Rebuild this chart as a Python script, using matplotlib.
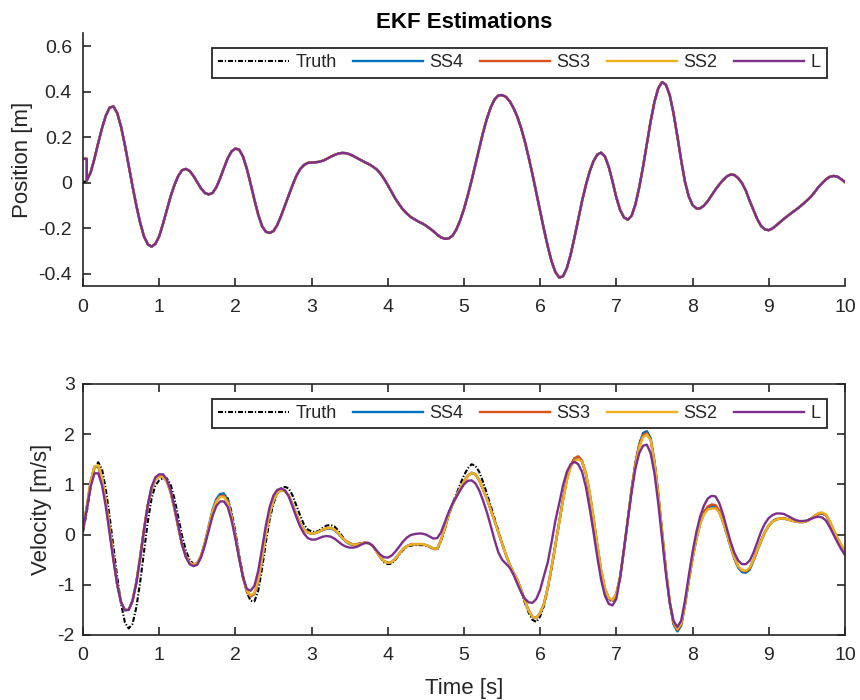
import numpy as np
import matplotlib
matplotlib.use("Agg")
import matplotlib.pyplot as plt
from matplotlib.ticker import FuncFormatter

plt.rcParams['font.family'] = ['Liberation Sans', 'DejaVu Sans']
plt.rcParams['axes.unicode_minus'] = False

# ---------------------------------------------------------------- data
# sample times [s]
time = np.round(np.arange(0, 10.0001, 0.05), 2)

# true position [m]
pos_truth = [
    0.000, 0.010, 0.045, 0.105, 0.175, 0.240, 0.295, 0.330, 0.335, 0.305,
    0.245, 0.165, 0.075, -0.015, -0.100, -0.175, -0.235, -0.270, -0.280, -0.268,
    -0.235, -0.180, -0.120, -0.060, -0.010, 0.030, 0.055, 0.061, 0.052, 0.030,
    0.002, -0.025, -0.045, -0.051, -0.045, -0.020, 0.020, 0.065, 0.108, 0.138,
    0.150, 0.145, 0.115, 0.062, -0.005, -0.075, -0.140, -0.190, -0.215, -0.220,
    -0.212, -0.185, -0.145, -0.100, -0.055, -0.010, 0.030, 0.060, 0.078, 0.087,
    0.089, 0.090, 0.092, 0.097, 0.105, 0.114, 0.122, 0.128, 0.131, 0.130,
    0.125, 0.117, 0.108, 0.099, 0.090, 0.082, 0.072, 0.060, 0.042, 0.018,
    -0.010, -0.040, -0.070, -0.095, -0.118, -0.135, -0.150, -0.160, -0.170, -0.178,
    -0.188, -0.200, -0.213, -0.228, -0.240, -0.246, -0.244, -0.232, -0.205, -0.165,
    -0.115, -0.055, 0.010, 0.080, 0.150, 0.220, 0.280, 0.330, 0.365, 0.383,
    0.385, 0.377, 0.358, 0.328, 0.290, 0.240, 0.180, 0.110, 0.035, -0.045,
    -0.125, -0.205, -0.280, -0.345, -0.392, -0.416, -0.410, -0.375, -0.315, -0.240,
    -0.160, -0.080, -0.010, 0.050, 0.095, 0.124, 0.132, 0.115, 0.070, 0.005,
    -0.065, -0.120, -0.152, -0.162, -0.145, -0.095, -0.020, 0.070, 0.170, 0.270,
    0.355, 0.415, 0.442, 0.430, 0.385, 0.305, 0.205, 0.100, 0.005, -0.060,
    -0.098, -0.112, -0.112, -0.100, -0.080, -0.055, -0.030, -0.008, 0.012, 0.028,
    0.036, 0.034, 0.020, -0.002, -0.035, -0.080, -0.120, -0.160, -0.190, -0.205,
    -0.208, -0.200, -0.187, -0.172, -0.158, -0.145, -0.132, -0.120, -0.107, -0.093,
    -0.078, -0.062, -0.042, -0.020, -0.002, 0.015, 0.026, 0.030, 0.027, 0.016,
    0.003,
]

# estimated position: filters start from their initial guess, then track the truth
pos_init_time = [0.0, 0.05]
pos_init_value = [0.105, 0.105]
pos_est = pos_truth[1:]

# true velocity [m/s]
vel_truth = [
    0.05, 0.45, 0.95, 1.32, 1.44, 1.30, 0.90, 0.35, -0.25, -0.85,
    -1.38, -1.75, -1.87, -1.78, -1.45, -0.95, -0.35, 0.25, 0.72, 0.98,
    1.08, 1.12, 1.12, 1.00, 0.72, 0.35, -0.02, -0.32, -0.50, -0.59,
    -0.58, -0.45, -0.20, 0.12, 0.45, 0.68, 0.80, 0.82, 0.72, 0.45,
    0.05, -0.40, -0.82, -1.15, -1.32, -1.33, -1.12, -0.68, -0.15, 0.30,
    0.62, 0.82, 0.92, 0.95, 0.92, 0.78, 0.58, 0.38, 0.20, 0.10,
    0.06, 0.05, 0.08, 0.14, 0.18, 0.19, 0.16, 0.08, -0.03, -0.12,
    -0.17, -0.19, -0.19, -0.17, -0.16, -0.17, -0.22, -0.33, -0.45, -0.55,
    -0.59, -0.58, -0.50, -0.40, -0.31, -0.25, -0.22, -0.21, -0.21, -0.21,
    -0.22, -0.25, -0.29, -0.30, -0.12, 0.12, 0.40, 0.62, 0.80, 1.00,
    1.18, 1.32, 1.40, 1.37, 1.25, 1.05, 0.82, 0.58, 0.33, 0.08,
    -0.17, -0.40, -0.60, -0.77, -0.92, -1.13, -1.36, -1.56, -1.70, -1.74,
    -1.63, -1.42, -1.08, -0.68, -0.22, 0.25, 0.70, 1.10, 1.38, 1.52,
    1.55, 1.45, 1.20, 0.80, 0.30, -0.25, -0.75, -1.12, -1.30, -1.33,
    -1.20, -0.85, -0.30, 0.30, 0.90, 1.42, 1.80, 2.02, 2.06, 1.90,
    1.45, 0.80, 0.05, -0.70, -1.35, -1.78, -1.92, -1.80, -1.40, -0.90,
    -0.45, -0.05, 0.25, 0.45, 0.55, 0.58, 0.56, 0.45, 0.25, 0.00,
    -0.25, -0.48, -0.65, -0.74, -0.75, -0.68, -0.50, -0.32, -0.12, 0.05,
    0.18, 0.27, 0.31, 0.33, 0.33, 0.30, 0.28, 0.26, 0.25, 0.25,
    0.27, 0.31, 0.37, 0.41, 0.42, 0.38, 0.25, 0.08, -0.08, -0.22,
    -0.33,
]

vel_ss4 = [
    0.12, 0.55, 1.05, 1.35, 1.36, 1.10, 0.65, 0.10, -0.48, -1.00,
    -1.35, -1.50, -1.50, -1.32, -0.95, -0.45, 0.10, 0.58, 0.92, 1.10,
    1.16, 1.15, 1.06, 0.85, 0.52, 0.15, -0.20, -0.43, -0.56, -0.60,
    -0.57, -0.42, -0.16, 0.17, 0.49, 0.71, 0.81, 0.81, 0.68, 0.38,
    -0.03, -0.46, -0.85, -1.13, -1.23, -1.18, -0.92, -0.48, 0.02, 0.42,
    0.68, 0.83, 0.88, 0.87, 0.78, 0.60, 0.40, 0.22, 0.10, 0.04,
    0.02, 0.03, 0.06, 0.09, 0.12, 0.12, 0.09, 0.02, -0.07, -0.14,
    -0.19, -0.21, -0.21, -0.18, -0.16, -0.17, -0.22, -0.33, -0.45, -0.53,
    -0.56, -0.55, -0.48, -0.38, -0.29, -0.23, -0.20, -0.19, -0.19, -0.19,
    -0.21, -0.24, -0.28, -0.28, -0.10, 0.14, 0.40, 0.60, 0.76, 0.92,
    1.06, 1.17, 1.23, 1.20, 1.08, 0.90, 0.72, 0.50, 0.28, 0.05,
    -0.18, -0.40, -0.60, -0.76, -0.90, -1.10, -1.32, -1.52, -1.64, -1.66,
    -1.56, -1.38, -1.05, -0.65, -0.20, 0.25, 0.70, 1.10, 1.37, 1.50,
    1.53, 1.45, 1.22, 0.82, 0.32, -0.22, -0.72, -1.08, -1.27, -1.31,
    -1.18, -0.84, -0.30, 0.30, 0.90, 1.42, 1.79, 2.01, 2.06, 1.92,
    1.46, 0.80, 0.05, -0.70, -1.35, -1.78, -1.93, -1.82, -1.41, -0.92,
    -0.48, -0.09, 0.22, 0.42, 0.53, 0.56, 0.55, 0.45, 0.25, 0.01,
    -0.25, -0.49, -0.66, -0.75, -0.76, -0.70, -0.52, -0.32, -0.12, 0.05,
    0.18, 0.26, 0.30, 0.32, 0.32, 0.30, 0.28, 0.26, 0.25, 0.25,
    0.27, 0.31, 0.37, 0.42, 0.43, 0.39, 0.26, 0.09, -0.07, -0.21,
    -0.32,
]

vel_ss3 = [
    0.12, 0.55, 1.05, 1.35, 1.36, 1.10, 0.65, 0.10, -0.48, -1.00,
    -1.35, -1.50, -1.50, -1.32, -0.95, -0.45, 0.10, 0.58, 0.92, 1.10,
    1.16, 1.15, 1.06, 0.85, 0.52, 0.15, -0.20, -0.43, -0.56, -0.60,
    -0.57, -0.42, -0.17, 0.15, 0.46, 0.67, 0.77, 0.77, 0.65, 0.36,
    -0.03, -0.46, -0.85, -1.13, -1.23, -1.18, -0.92, -0.48, 0.02, 0.42,
    0.68, 0.83, 0.88, 0.87, 0.78, 0.60, 0.40, 0.22, 0.10, 0.04,
    0.02, 0.03, 0.06, 0.10, 0.13, 0.13, 0.10, 0.03, -0.06, -0.13,
    -0.18, -0.20, -0.20, -0.18, -0.16, -0.17, -0.22, -0.33, -0.45, -0.53,
    -0.56, -0.55, -0.48, -0.38, -0.29, -0.23, -0.20, -0.19, -0.19, -0.19,
    -0.21, -0.24, -0.28, -0.28, -0.10, 0.14, 0.40, 0.60, 0.76, 0.92,
    1.06, 1.17, 1.23, 1.20, 1.08, 0.90, 0.72, 0.50, 0.28, 0.05,
    -0.18, -0.40, -0.60, -0.76, -0.90, -1.10, -1.32, -1.52, -1.64, -1.66,
    -1.56, -1.38, -1.05, -0.65, -0.20, 0.25, 0.70, 1.10, 1.38, 1.52,
    1.56, 1.47, 1.22, 0.82, 0.32, -0.22, -0.72, -1.08, -1.27, -1.31,
    -1.18, -0.84, -0.30, 0.30, 0.90, 1.42, 1.78, 1.98, 2.02, 1.88,
    1.44, 0.80, 0.05, -0.70, -1.34, -1.76, -1.90, -1.79, -1.40, -0.91,
    -0.47, -0.08, 0.23, 0.44, 0.56, 0.60, 0.59, 0.48, 0.27, 0.02,
    -0.24, -0.47, -0.64, -0.72, -0.73, -0.67, -0.50, -0.31, -0.12, 0.05,
    0.18, 0.26, 0.30, 0.32, 0.32, 0.30, 0.28, 0.26, 0.25, 0.25,
    0.27, 0.31, 0.37, 0.42, 0.43, 0.39, 0.26, 0.09, -0.07, -0.21,
    -0.32,
]

vel_ss2 = [
    0.12, 0.55, 1.05, 1.36, 1.38, 1.13, 0.66, 0.10, -0.48, -1.00,
    -1.35, -1.50, -1.50, -1.32, -0.95, -0.45, 0.10, 0.58, 0.92, 1.10,
    1.16, 1.15, 1.06, 0.85, 0.52, 0.15, -0.20, -0.43, -0.56, -0.60,
    -0.57, -0.42, -0.17, 0.15, 0.46, 0.66, 0.75, 0.75, 0.63, 0.35,
    -0.03, -0.46, -0.85, -1.12, -1.21, -1.16, -0.91, -0.48, 0.02, 0.42,
    0.68, 0.83, 0.88, 0.87, 0.78, 0.60, 0.40, 0.22, 0.10, 0.04,
    0.02, 0.03, 0.06, 0.10, 0.13, 0.13, 0.10, 0.03, -0.06, -0.13,
    -0.18, -0.20, -0.20, -0.18, -0.16, -0.17, -0.22, -0.33, -0.45, -0.53,
    -0.56, -0.55, -0.48, -0.38, -0.29, -0.23, -0.20, -0.19, -0.19, -0.19,
    -0.21, -0.24, -0.28, -0.28, -0.10, 0.14, 0.40, 0.60, 0.76, 0.92,
    1.06, 1.17, 1.23, 1.20, 1.08, 0.90, 0.72, 0.50, 0.28, 0.05,
    -0.18, -0.40, -0.60, -0.76, -0.90, -1.10, -1.32, -1.52, -1.64, -1.66,
    -1.56, -1.38, -1.05, -0.65, -0.20, 0.24, 0.68, 1.07, 1.34, 1.47,
    1.50, 1.45, 1.22, 0.84, 0.34, -0.20, -0.70, -1.07, -1.26, -1.30,
    -1.18, -0.84, -0.30, 0.30, 0.88, 1.38, 1.74, 1.94, 1.99, 1.88,
    1.44, 0.81, 0.06, -0.69, -1.32, -1.74, -1.88, -1.78, -1.40, -0.91,
    -0.47, -0.09, 0.21, 0.40, 0.50, 0.52, 0.52, 0.44, 0.25, 0.01,
    -0.24, -0.47, -0.63, -0.71, -0.72, -0.66, -0.50, -0.31, -0.12, 0.05,
    0.18, 0.26, 0.30, 0.32, 0.32, 0.30, 0.28, 0.26, 0.25, 0.25,
    0.27, 0.31, 0.37, 0.43, 0.44, 0.40, 0.27, 0.10, -0.06, -0.20,
    -0.31,
]

vel_l = [
    0.12, 0.50, 0.95, 1.22, 1.22, 0.98, 0.55, 0.02, -0.52, -1.00,
    -1.35, -1.51, -1.50, -1.32, -0.97, -0.48, 0.08, 0.58, 0.95, 1.14,
    1.20, 1.20, 1.10, 0.88, 0.55, 0.17, -0.20, -0.45, -0.59, -0.63,
    -0.60, -0.45, -0.21, 0.08, 0.37, 0.57, 0.66, 0.66, 0.55, 0.28,
    -0.08, -0.48, -0.85, -1.08, -1.12, -1.02, -0.72, -0.28, 0.18, 0.55,
    0.78, 0.89, 0.92, 0.88, 0.76, 0.56, 0.35, 0.16, 0.02, -0.07,
    -0.10, -0.10, -0.07, -0.04, -0.03, -0.04, -0.08, -0.14, -0.20, -0.24,
    -0.26, -0.26, -0.24, -0.20, -0.17, -0.17, -0.22, -0.31, -0.40, -0.45,
    -0.46, -0.42, -0.34, -0.24, -0.14, -0.06, -0.01, 0.01, 0.02, 0.02,
    0.00, -0.04, -0.08, -0.07, 0.05, 0.25, 0.45, 0.62, 0.75, 0.88,
    1.00, 1.07, 1.08, 1.02, 0.88, 0.68, 0.45, 0.18, -0.10, -0.35,
    -0.50, -0.58, -0.66, -0.80, -0.98, -1.15, -1.28, -1.35, -1.36, -1.28,
    -1.10, -0.82, -0.55, -0.15, 0.28, 0.62, 0.98, 1.25, 1.40, 1.45,
    1.40, 1.25, 0.95, 0.52, 0.05, -0.45, -0.90, -1.22, -1.38, -1.41,
    -1.28, -0.85, -0.28, 0.30, 0.85, 1.32, 1.62, 1.77, 1.79, 1.62,
    1.22, 0.62, -0.08, -0.78, -1.35, -1.72, -1.84, -1.72, -1.32, -0.82,
    -0.35, 0.05, 0.36, 0.58, 0.72, 0.77, 0.76, 0.63, 0.40, 0.12,
    -0.15, -0.37, -0.52, -0.59, -0.59, -0.52, -0.36, -0.15, 0.06, 0.22,
    0.33, 0.39, 0.42, 0.42, 0.41, 0.37, 0.33, 0.29, 0.27, 0.27,
    0.28, 0.31, 0.34, 0.36, 0.34, 0.28, 0.15, 0.00, -0.15, -0.29,
    -0.41,
]

series_names = ['Truth', 'SS4', 'SS3', 'SS2', 'L']
series_colors = ['black', '#0072BD', '#D95319', '#EDB120', '#7E2F8E']

# ---------------------------------------------------------------- style
ink = '#262626'
plt.rcParams.update({
    'axes.edgecolor': ink,
    'axes.labelcolor': ink,
    'xtick.color': ink,
    'ytick.color': ink,
    'text.color': ink,
})
truth_style = dict(color='black', lw=1.5, linestyle=(0, (2.4, 0.9, 0.6, 0.9)))
lw = 1.7

fig = plt.figure(figsize=(8.6, 7), dpi=100)
ax1 = fig.add_axes([0.0965, 0.5914, 0.886, 0.3614])
ax2 = fig.add_axes([0.0965, 0.0929, 0.886, 0.3586])

# position panel
est_time = np.concatenate([pos_init_time, time[1:]])
est_pos = np.concatenate([pos_init_value, pos_est])
ax1.plot(time, pos_truth, label='Truth', **truth_style)
for name, col in zip(series_names[1:], series_colors[1:]):
    ax1.plot(est_time, est_pos, color=col, lw=lw, label=name)

# velocity panel
ax2.plot(time, vel_truth, label='Truth', **truth_style)
for vals, name, col in zip([vel_ss4, vel_ss3, vel_ss2, vel_l],
                           series_names[1:], series_colors[1:]):
    ax2.plot(time, vals, color=col, lw=lw, label=name)

fmt = FuncFormatter(lambda v, p: f'{v:g}')
for ax in (ax1, ax2):
    ax.set_xlim(0, 10)
    ax.set_xticks(range(0, 11))
    ax.xaxis.set_major_formatter(fmt)
    ax.yaxis.set_major_formatter(fmt)
    ax.tick_params(direction='in', length=5.5, width=1.2, labelsize=14)
    ax.tick_params(axis='x', pad=9)
    for sp in ax.spines.values():
        sp.set_linewidth(1.2)
    leg = ax.legend(ncol=5, loc='upper right', bbox_to_anchor=(0.976, 0.941),
                    fontsize=13, handlelength=3.9, handletextpad=0.35,
                    columnspacing=0.9, borderpad=0.35, borderaxespad=0,
                    fancybox=False, framealpha=1, edgecolor=ink)
    leg.get_frame().set_linewidth(1.3)

ax1.set_ylim(-0.453, 0.657)
ax1.set_yticks([-0.4, -0.2, 0, 0.2, 0.4, 0.6])
ax1.spines['top'].set_visible(False)
ax1.spines['right'].set_visible(False)
ax1.tick_params(axis='y', pad=8)
ax1.set_ylabel('Position [m]', fontsize=16)
ax1.yaxis.set_label_coords(-0.0656, 0.5)
ax1.set_title('EKF Estimations', fontsize=16, fontweight='bold', pad=1.5,
              color='black')

ax2.set_ylim(-2, 3)
ax2.set_yticks(range(-2, 4))
ax2.tick_params(top=True, right=True, labeltop=False, labelright=False)
ax2.tick_params(axis='y', pad=6)
ax2.set_ylabel('Velocity [m/s]', fontsize=16)
ax2.yaxis.set_label_coords(-0.0407, 0.5)
ax2.set_xlabel('Time [s]', fontsize=16)
ax2.xaxis.set_label_coords(0.5, -0.171)
ax2.xaxis.label.set_va('top')

fig.savefig('out.png', dpi=100)
